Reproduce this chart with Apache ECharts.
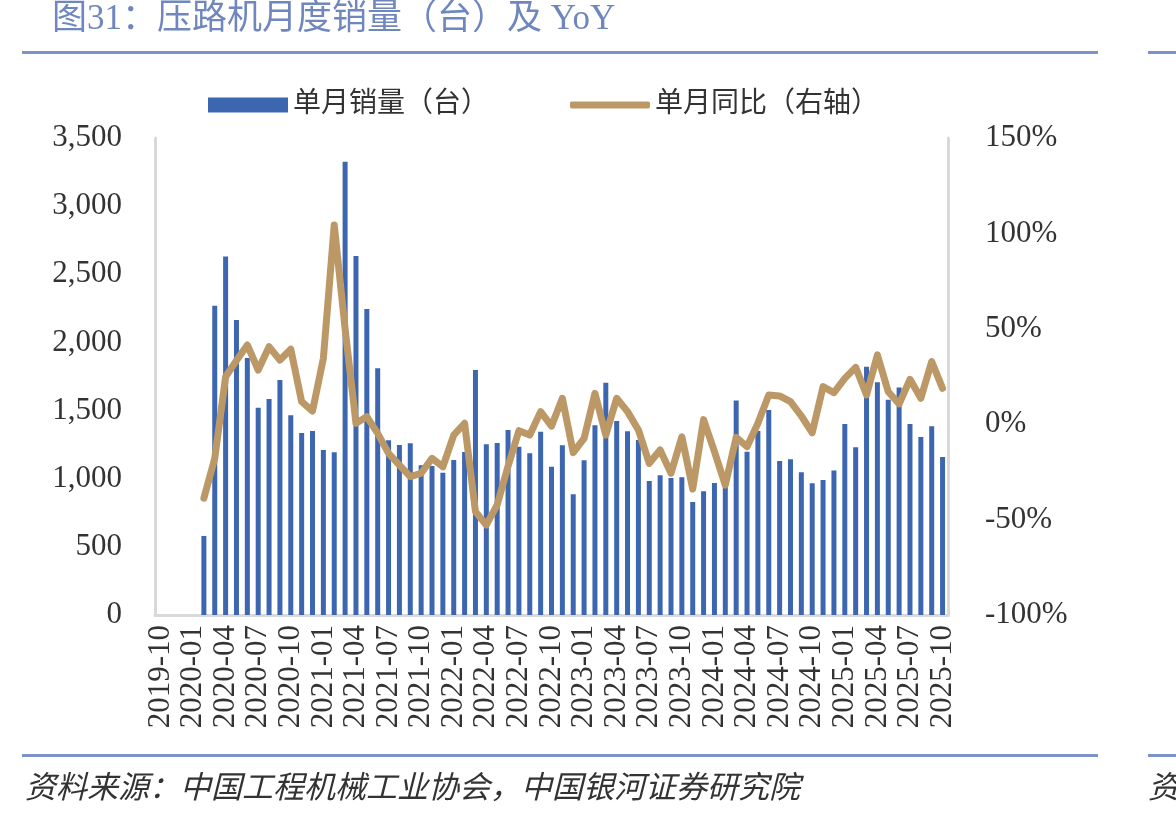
<!DOCTYPE html>
<html>
<head>
<meta charset="utf-8">
<script src="https://cdn.jsdelivr.net/npm/echarts@6/dist/echarts.min.js"></script>
<style>
  html, body { margin: 0; padding: 0; background: #fff; }
  #chart { width: 1176px; height: 820px; }
</style>
</head>
<body>
<div id="chart"></div>
<script>
// months 2019-10 .. 2025-10
const months = []
for (let y = 2019, m = 10; y < 2025 || (y === 2025 && m <= 10); m++) {
  if (m > 12) { m = 1; y++ }
  if (y === 2025 && m > 10) break
  months.push(y + '-' + String(m).padStart(2, '0'))
}

// 单月销量（台）, 2019-10 .. 2025-10
const sales = [
  null, null, null, null,
  580, 2270, 2630, 2165, 1885, 1520, 1585, 1725, 1465, 1335, 1350,
  1210, 1195, 3325, 2635, 2245, 1810, 1282, 1247, 1260, 1098, 1093, 1044,
  1137, 1196, 1798, 1252, 1262, 1357, 1235, 1186, 1345, 1088, 1245, 886,
  1135, 1392, 1705, 1424, 1348, 1284, 983, 1025, 1005, 1010, 829, 908,
  969, 945, 1573, 1198, 1350, 1504, 1130, 1142, 1047, 966, 990, 1060,
  1401, 1230, 1822, 1708, 1580, 1670, 1401, 1306, 1385, 1159
]

// 单月同比（%）
const yoy = [
  null, null, null, null,
  -38.8, -17.9, 24.9, 33.4, 41.5, 28.4, 40.6, 33.6, 39.3, 11.8, 6.9,
  34.5, 104.4, 50, 0.5, 3.9, -4.8, -15.3, -21.5, -27.5, -25.7, -17.9, -22.3,
  -5.7, 0.5, -45.8, -52.8, -42.3, -22, -3.4, -5.7, 6.6, -1, 13.6, -14.9,
  -7.4, 16.2, -5.7, 13.6, 6.6, -3, -20.5, -13.5, -25.7, -6.6, -34, 2.4,
  -14.4, -31.9, -6.9, -11.8, 0.5, 15.3, 14.8, 11.8, 4.3, -4.5, 19.7, 16.5,
  24, 29.8, 15.3, 36.3, 17, 10.6, 23.5, 13.6, 32.8, 18.8
]

const BAR_COLOR = '#3d66b1'
const LINE_COLOR = '#bb9866'
const AXIS_GRAY = '#d9d9d9'
const TEXT = '#333'
const FONT = '"Liberation Serif", "Noto Sans CJK SC", serif'
const NUM_FONT = '"Liberation Serif", serif'
const RULE = '#7b93c6'

const chart = echarts.init(document.getElementById('chart'))

const legendText = { fontSize: 28, color: TEXT, fontFamily: FONT }

chart.setOption({
  animation: false,
  textStyle: { fontFamily: FONT },
  graphic: [
    {
      type: 'text', left: 52, top: 2,
      style: { text: '图31：压路机月度销量（台）及 YoY', fill: '#6f87bd', font: '35px ' + FONT }
    },
    { type: 'rect', shape: { x: 22, y: 51, width: 1076, height: 3 }, style: { fill: RULE } },
    { type: 'rect', shape: { x: 1148, y: 51, width: 28, height: 3 }, style: { fill: RULE } },
    { type: 'rect', shape: { x: 22, y: 754, width: 1076, height: 3 }, style: { fill: RULE } },
    { type: 'rect', shape: { x: 1148, y: 754, width: 28, height: 3 }, style: { fill: RULE } },
    {
      type: 'text', left: 25, top: 771,
      style: {
        text: '资料来源：中国工程机械工业协会，中国银河证券研究院',
        fill: TEXT, font: 'italic 31px "Noto Sans CJK SC", serif'
      }
    },
    {
      type: 'text', left: 1148, top: 771,
      style: { text: '资', fill: TEXT, font: 'italic 31px "Noto Sans CJK SC", serif' }
    }
  ],
  legend: [
    {
      left: 203, top: 86,
      textStyle: legendText,
      data: [{ name: '单月销量（台）', icon: 'rect', itemStyle: { color: BAR_COLOR } }],
      itemWidth: 80, itemHeight: 15
    },
    {
      left: 565, top: 86,
      textStyle: legendText,
      data: [{ name: '单月同比（右轴）', icon: 'roundRect', itemStyle: { color: LINE_COLOR } }],
      itemWidth: 80, itemHeight: 7
    }
  ],
  grid: { left: 155, right: 228, top: 138, bottom: 205 },
  xAxis: {
    type: 'category',
    data: months,
    axisLine: { lineStyle: { color: AXIS_GRAY, width: 3 } },
    axisTick: { show: false },
    axisLabel: {
      interval: 2, rotate: 90, color: TEXT, fontSize: 31,
      fontFamily: NUM_FONT, margin: 10
    }
  },
  yAxis: [
    {
      type: 'value', min: 0, max: 3500, interval: 500,
      axisLine: { show: true, lineStyle: { color: AXIS_GRAY, width: 3 } },
      axisTick: { show: false },
      splitLine: { show: false },
      axisLabel: {
        color: TEXT, fontSize: 31, margin: 33,
        fontFamily: NUM_FONT,
        formatter: v => v.toLocaleString('en-US')
      }
    },
    {
      type: 'value', min: -100, max: 150, interval: 50,
      axisLine: { show: true, lineStyle: { color: AXIS_GRAY, width: 3 } },
      axisTick: { show: false },
      splitLine: { show: false },
      axisLabel: {
        color: TEXT, fontSize: 31, margin: 37,
        fontFamily: NUM_FONT,
        formatter: v => v + '%'
      }
    }
  ],
  series: [
    {
      name: '单月销量（台）',
      type: 'bar',
      data: sales,
      barWidth: 5,
      itemStyle: { color: BAR_COLOR }
    },
    {
      name: '单月同比（右轴）',
      type: 'line',
      yAxisIndex: 1,
      data: yoy,
      symbol: 'none',
      lineStyle: { color: LINE_COLOR, width: 7, join: 'round', cap: 'round' },
      itemStyle: { color: LINE_COLOR }
    }
  ]
})
</script>
</body>
</html>
